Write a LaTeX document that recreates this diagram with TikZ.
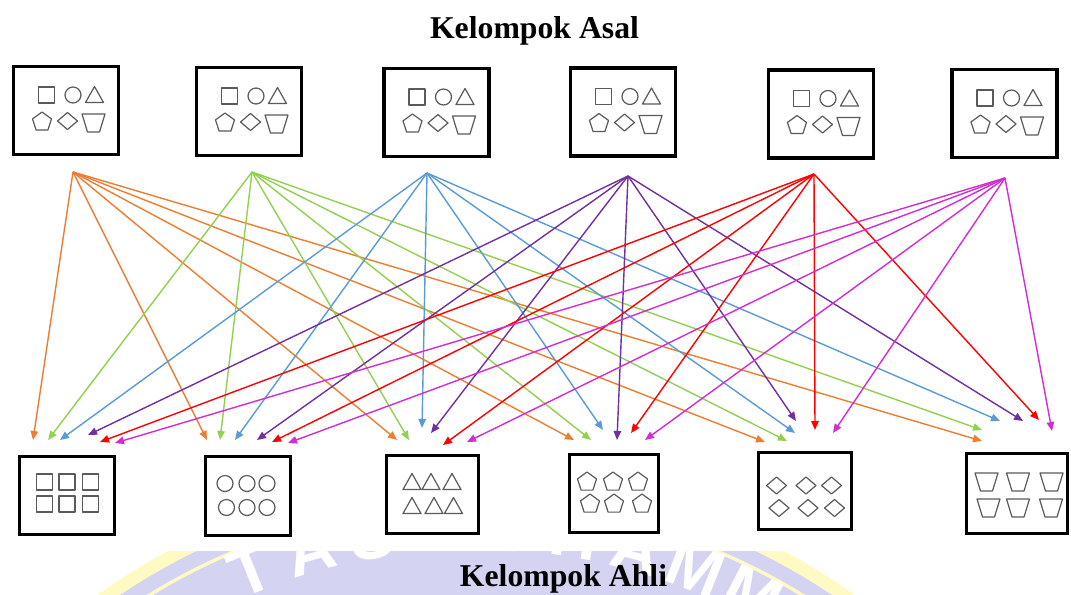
\documentclass[tikz,border=0pt]{standalone}
\usepackage{fontspec}
\setmainfont{Liberation Serif}
\newfontfamily\wmfont{Liberation Sans}
\usetikzlibrary{arrows.meta}
\definecolor{cO}{RGB}{237,125,49}
\definecolor{cG}{RGB}{146,208,80}
\definecolor{cB}{RGB}{91,155,213}
\definecolor{cP}{RGB}{112,48,160}
\definecolor{cR}{RGB}{255,0,0}
\definecolor{cM}{RGB}{210,45,210}
\definecolor{shp}{RGB}{90,90,90}
\definecolor{wmlav}{RGB}{212,212,242}
\definecolor{wmyel}{RGB}{255,250,195}
\begin{document}
\begin{tikzpicture}[x=0.75pt,y=-0.75pt,
  frame/.style={draw=black, line width=2.4pt, fill=white, inner sep=0pt, outer sep=0pt},
  topframe/.style={frame, minimum width=78.75pt, minimum height=66pt},
  shapeline/.style={draw=shp, line width=0.9pt, line join=round},
  conn/.style={line width=1.05pt, -{Triangle[length=6.75pt,width=5.6pt]}},
  title/.style={font=\bfseries\fontsize{23.8}{28}\selectfont, anchor=base, inner sep=0pt},
  wmletter/.style={text=white, inner sep=0pt, font=\wmfont\bfseries\fontsize{50}{50}\selectfont},
  psq/.pic={\draw[shapeline] (-8,-8) rectangle (8,8);},
  pci/.pic={\draw[shapeline] (0,0) circle[radius=8];},
  ptr/.pic={\draw[shapeline] (0,-8.5) -- (9,7.5) -- (-9,7.5) -- cycle;},
  ppe/.pic={\draw[shapeline] (-90:10) -- (-18:10) -- (54:10) -- (126:10) -- (198:10) -- cycle;},
  pdi/.pic={\draw[shapeline] (-10,0) -- (0,-8.5) -- (10,0) -- (0,8.5) -- cycle;},
  ptz/.pic={\draw[shapeline] (-11.5,-9) -- (11.5,-9) -- (6,9) -- (-6,9) -- cycle;}
]
\useasboundingbox (0,0) rectangle (1071,594);
\fill[white] (0,0) rectangle (1071,594);

% faint background watermark
\begin{scope}
  \clip (0,551) rectangle (1071,594);
  \fill[wmyel] (476,1127) circle[radius=653];
  \fill[wmlav] (476,1127) circle[radius=640];
  \draw[wmyel, line width=2.5pt] (476,1127) circle[radius=624];
  \foreach \l/\a [count=\k] in {T/-22, A/-16, S/-10, M/-2.5, U/3.5, H/9.5, A/15.5, M/21.5, M/27.5}
    \node[wmletter, rotate=-\a] (wm\k) at ({476+600*sin(\a)},{1127-600*cos(\a)}) {\l};
\end{scope}

% titles
\node[title] (asal) at (534.5,38) {Kelompok Asal};
\node[title] (ahli) at (563.5,586) {Kelompok Ahli};

% top boxes
\foreach \n/\cx/\cy in {1/66/110.5, 2/249/111.5, 3/436.5/112.5, 4/623/112, 5/821/114, 6/1004.5/113.5} {
  \node[topframe] (top\n) at (\cx,\cy) {};
  \pic at ([shift={(-19.5,-15.5)}]top\n.center) {psq};
  \pic at ([shift={(7,-15.5)}]top\n.center) {pci};
  \pic at ([shift={(28.5,-15.5)}]top\n.center) {ptr};
  \pic at ([shift={(-24,11.5)}]top\n.center) {ppe};
  \pic at ([shift={(1.5,10.5)}]top\n.center) {pdi};
  \pic at ([shift={(27.5,12.5)}]top\n.center) {ptz};
}

% bottom boxes
\node[frame, minimum width=71.25pt, minimum height=58.5pt] (bot1) at (67,495.5) {};
\node[frame, minimum width=63.75pt, minimum height=59.25pt] (bot2) at (248,496) {};
\node[frame, minimum width=69pt, minimum height=58.5pt] (bot3) at (432.5,494.5) {};
\node[frame, minimum width=66.75pt, minimum height=58.5pt] (bot4) at (614,493.5) {};
\node[frame, minimum width=69.75pt, minimum height=57.75pt] (bot5) at (805,491) {};
\node[frame, minimum width=75.75pt, minimum height=60pt] (bot6) at (1017,493.5) {};

\foreach \x/\y in {44.5/482, 67/482, 90.5/482, 44.5/504, 67/504, 90.5/504} \pic at (\x,\y) {psq};
\foreach \x/\y in {225/483.5, 247/483.5, 267/483.5, 226.5/507.5, 247/507.5, 267/507.5} \pic at (\x,\y) {pci};
\foreach \x/\y in {412/482, 431/482, 452/482, 412/506, 434/506, 453.5/506} \pic at (\x,\y) {ptr};
\foreach \x/\y in {587/482, 613/482, 638/482, 590/504, 614/504, 642/504} \pic at (\x,\y) {ppe};
\foreach \x/\y in {776.5/485.5, 806/485.5, 831.5/485.5, 779/508, 808/508, 834.5/508} \pic at (\x,\y) {pdi};
\foreach \x/\y in {986.5/482, 1018/482, 1051.5/482, 988.5/508, 1018/508, 1051/508} \pic at (\x,\y) {ptz};

% sources
\coordinate (s1) at (73,172);
\coordinate (s2) at (252,172);
\coordinate (s3) at (427,173);
\coordinate (s4) at (628,176);
\coordinate (s5) at (814,174);
\coordinate (s6) at (1005,178);

% targets t<colour>-<box>
\foreach \j/\xo/\yo/\xg/\yg/\xb/\yb/\xp/\yp/\xr/\yr/\xm/\ym in {
  1/33/440/48/440/60/440/88/435/100/442/115/443,
  2/207/440/220/440/235/440/257/440/272/442/288/443,
  3/397/440/409/440/422/428/431/433/443/445/467/442,
  4/574/440/591/440/603/430/617/440/631/433/645/440,
  5/765/442/787/441/795/433/796/421/815/430/833/433,
  6/982/441/982/430/1000/421/1023/421/1039/420/1052/431} {
  \coordinate (t1-\j) at (\xo,\yo);
  \coordinate (t2-\j) at (\xg,\yg);
  \coordinate (t3-\j) at (\xb,\yb);
  \coordinate (t4-\j) at (\xp,\yp);
  \coordinate (t5-\j) at (\xr,\yr);
  \coordinate (t6-\j) at (\xm,\ym);
}

% connectors
\foreach \c [count=\i] in {cO,cG,cB,cP,cR,cM} {
  \foreach \j in {1,...,6} {
    \draw[conn, \c] (s\i) -- (t\i-\j);
  }
}
\end{tikzpicture}
\end{document}
